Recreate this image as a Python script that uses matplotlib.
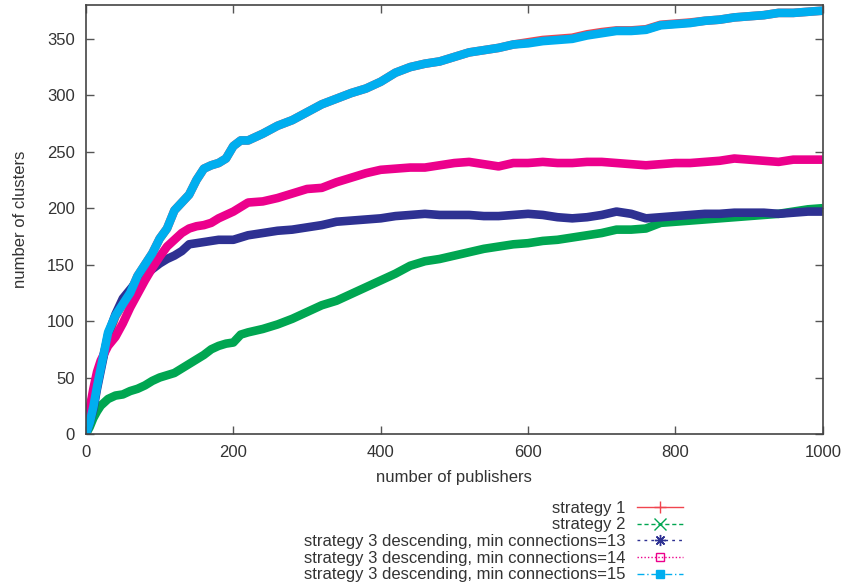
import numpy as np
import matplotlib
matplotlib.use("Agg")
import matplotlib.pyplot as plt
from matplotlib.lines import Line2D

plt.rcParams['font.family'] = ['Liberation Sans', 'DejaVu Sans']

# number of publishers (shared x grid)
publishers = [0, 5, 10, 15, 20, 30, 40, 50, 60, 70, 80, 90, 100, 110, 120, 130, 140, 150,
              160, 170, 180, 190, 200, 210, 220, 240, 260, 280, 300, 320, 340, 360, 380,
              400, 420, 440, 460, 480, 500, 520, 540, 560, 580, 600, 620, 640, 660, 680,
              700, 720, 740, 760, 780, 800, 820, 840, 860, 880, 900, 920, 940, 960, 980, 1000]

strategy1 = [0, 22, 36, 48, 60, 86, 104, 115, 125, 140, 150, 160, 173, 182, 198, 205, 212, 225,
             235, 238, 240, 244, 255, 260, 260, 266, 273, 278, 285, 292, 297, 302, 306,
             312, 320, 325, 328, 330, 334, 338, 340, 342, 345, 347, 349, 350, 351, 354,
             356, 357.5, 357.5, 358.5, 362.5, 363.5, 364.5, 366, 367, 369, 370, 371, 373, 373, 374, 375]

strategy2 = [0, 6, 14, 20, 25, 31, 34, 35, 38, 40, 43, 47, 50, 52, 54, 58, 62, 66,
             70, 75, 78, 80, 81, 88, 90, 93, 97, 102, 108, 114, 118, 124, 130,
             136, 142, 149, 153, 155, 158, 161, 164, 166, 168, 169, 171, 172, 174, 176,
             178, 181, 181, 182, 187, 188, 189, 190, 191, 192, 193, 194, 195, 197, 199, 200]

min13 = [0, 10, 22, 40, 56, 88, 106, 120, 128, 136, 140, 146, 151, 155, 158, 162, 168, 169,
         170, 171, 172, 172, 172, 174, 176, 178, 180, 181, 183, 185, 188, 189, 190,
         191, 193, 194, 195, 194, 194, 194, 193, 193, 194, 195, 194, 192, 191, 192,
         194, 197, 195, 191, 192, 193, 194, 195, 195, 196, 196, 196, 195, 196, 197, 197]

min14 = [0, 22, 40, 55, 65, 78, 86, 98, 112, 124, 136, 147, 157, 166, 172, 178, 182, 184,
         185, 187, 191, 194, 197, 201, 205, 206, 209, 213, 217, 218, 223, 227, 231,
         234, 235, 236, 236, 238, 240, 241, 239, 237, 240, 240, 241, 240, 240, 241,
         241, 240, 239, 238, 239, 240, 240, 241, 242, 244, 243, 242, 241, 243, 243, 243]

min15 = [0, 10, 24, 42, 58, 90, 105, 115, 125, 140, 150, 160, 173, 182, 198, 205, 212, 225,
         235, 238, 240, 244, 255, 260, 260, 266, 273, 278, 285, 292, 297, 302, 306,
         312, 320, 325, 328, 330, 334, 338, 340, 342, 345, 346, 348, 349, 350, 353,
         355, 357, 357, 358, 362, 363, 364, 366, 367, 369, 370, 371, 373, 373, 374, 375]

labels = ["strategy 1", "strategy 2",
          "strategy 3 descending, min connections=13",
          "strategy 3 descending, min connections=14",
          "strategy 3 descending, min connections=15"]
colors = ["#f0454f", "#00a651", "#2e3192", "#ec008c", "#00aeef"]
styles = ["-", (0, (3, 2)), (0, (2, 3)), (0, (1, 1.5)), (0, (5, 2, 1, 2))]
markers = ["+", "x", (8, 2, 0), "s", "s"]
faces = [None, None, None, "none", "#00aeef"]

series = [strategy1, strategy2, min13, min14, min15]

fig = plt.figure(figsize=(8.43, 5.88), dpi=100)
ax = fig.add_axes([0.102, 0.262, 0.874, 0.7295])

for ys, c in zip(series, colors):
    ax.plot(publishers, ys, color=c, lw=6.2, solid_joinstyle='round', solid_capstyle='butt')

ax.set_xlim(0, 1000)
ax.set_ylim(0, 380)
ax.set_xticks([0, 200, 400, 600, 800, 1000])
ax.set_yticks(range(0, 351, 50))
txtc = "#333333"
ax.tick_params(direction='in', length=6, width=1, top=True, right=True,
               labelsize=12, colors="#555555", labelcolor=txtc, pad=8)
for s in ax.spines.values():
    s.set_color("#444444")
    s.set_linewidth(1.2)
ax.set_xlabel("number of publishers", fontsize=12, color=txtc, labelpad=7)
ax.set_ylabel("number of clusters", fontsize=12, color=txtc, labelpad=14)

handles = []
for c, ls, m, fc in zip(colors, styles, markers, faces):
    kw = dict(color=c, ls=ls, lw=1, marker=m, markersize=8)
    if fc is not None:
        kw['markerfacecolor'] = fc
        kw['markersize'] = 6
    handles.append(Line2D([], [], **kw))

fig.legend(handles, labels, loc='center right', bbox_to_anchor=(0.81, 0.079),
           frameon=False, markerfirst=False, fontsize=12, handlelength=2.75,
           handletextpad=0.7, labelspacing=0.1, labelcolor=txtc, borderaxespad=0,
           borderpad=0)

fig.savefig("out.png", dpi=100)
